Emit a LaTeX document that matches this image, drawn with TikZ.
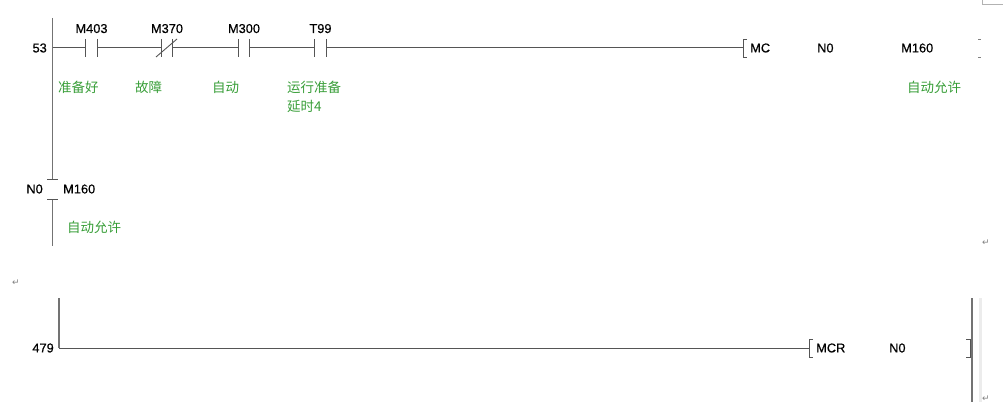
\documentclass[tikz,border=0pt]{standalone}
\usepackage{fontspec}
\setmainfont{Liberation Sans}
\newfontfamily\cjk{Noto Sans CJK SC}
\newfontfamily\symfont{DejaVu Sans}
\newfontfamily\addrfont[FakeBold=0.5]{Liberation Sans}
\usetikzlibrary{positioning}
\definecolor{cmtgreen}{RGB}{56,158,56}
\definecolor{wiregray}{RGB}{85,85,85}
\tikzset{
  wire/.style={draw=wiregray, line width=1pt},
  rail/.style={draw=gray!90!black, line width=1.5pt},
  contact/.style={inner sep=0, minimum width=11pt, minimum height=18pt},
  addr/.style={inner sep=0, font=\addrfont\fontsize{12.8}{14}\selectfont},
  cmt/.style={inner sep=0, text=cmtgreen, font=\cjk\fontsize{13.5}{16}\selectfont},
  pmark/.style={inner sep=0, text=gray, font=\symfont\fontsize{9}{10}\selectfont}
}

\begin{document}
\begin{tikzpicture}[x=1pt,y=-1pt]
  \useasboundingbox (0,0) rectangle (1003,414);
  % page corner
  \draw[gray!60, line width=0.8pt] (982,0) -- (982,4) -- (1003,4);

  % rung 53
  \coordinate (top1) at (52.5,18);
  \coordinate (n1) at (52.5,48);
  \coordinate (gapA) at (52.5,180);
  \coordinate (gapB) at (52.5,199);
  \coordinate (bot1) at (52.5,246);
  \draw[rail] (top1) -- (gapA);
  \draw[rail] (gapB) -- (bot1);
  \draw[wire] ([xshift=-5.5pt]gapA) -- ([xshift=5.5pt]gapA);
  \draw[wire] ([xshift=-5.5pt]gapB) -- ([xshift=5.5pt]gapB);
  \node[addr, anchor=east] (s53) at (47,48) {53};

  % contacts
  \node[contact] (k1) at (91.5,48) {};
  \node[contact] (k2) at (167,48) {};
  \node[contact] (k3) at (244,48) {};
  \node[contact] (k4) at (320.5,48) {};
  \coordinate (mcL) at (743,48);
  \draw[wire] (n1) -- (k1.west) (k1.east) -- (k2.west) (k2.east) -- (k3.west)
    (k3.east) -- (k4.west) (k4.east) -- (mcL);
  \foreach \k in {k1,k2,k3,k4}
    \draw[wire] (\k.north west) -- (\k.south west) (\k.north east) -- (\k.south east);
  \draw[wire, line width=0.9pt] ([shift={(-11pt,-9pt)}]k2.center) -- ([shift={(10pt,9pt)}]k2.center);
  \node[addr, above=5.5pt of k1] (a1) {M403};
  \node[addr, above=5.5pt of k2] (a2) {M370};
  \node[addr, above=5.5pt of k3] (a3) {M300};
  \node[addr, above=5.5pt of k4] (a4) {T99};

  % MC coil
  \draw[wire, line width=0.9pt] ([shift={(4pt,9pt)}]mcL) -- ([yshift=9pt]mcL) -- ([yshift=-9pt]mcL) -- ([shift={(4pt,-9pt)}]mcL);
  \node[addr, anchor=west] (mc) at (750,48) {MC};
  \node[addr, anchor=west] (mcn) at (817,48) {N0};
  \node[addr, anchor=west] (mcm) at (901,48) {M160};
  \draw[gray, line width=0.8pt] (978,39) -- (981,39) (978,57) -- (981,57);

  % comments
  \node[cmt, anchor=west] (c1) at (58,87) {准备好};
  \node[cmt, anchor=west] (c2) at (135,87) {故障};
  \node[cmt, anchor=west] (c3) at (212,87) {自动};
  \node[cmt, anchor=west] (c4) at (287,87) {运行准备};
  \node[cmt, anchor=west] (c5) at (287,106) {延时4};
  \node[cmt, anchor=west] (c6) at (907,87) {自动允许};

  % N0 break
  \node[addr, anchor=east] (nb) at (43,189) {N0};
  \node[addr, anchor=west] (nm) at (63,189) {M160};
  \node[cmt, anchor=west] (c7) at (67,227) {自动允许};

  % paragraph marks
  \node[pmark] (p1) at (986,243) {↵};
  \node[pmark] (p2) at (16,283) {↵};
  \node[pmark] (p3) at (986,399) {↵};

  % rung 479
  \coordinate (top2) at (59,298);
  \coordinate (n2) at (59,348);
  \coordinate (mcrL) at (809,348);
  \coordinate (endR) at (970,348);
  \coordinate (rtop) at (972,298);
  \coordinate (rbot) at (972,402);
  \draw[rail] (top2) -- (n2);
  \draw[wire] (n2) -- (mcrL);
  \node[addr, anchor=east] (s479) at (54,348) {479};
  \draw[wire, line width=0.9pt] ([shift={(4pt,9pt)}]mcrL) -- ([yshift=9pt]mcrL) -- ([yshift=-9pt]mcrL) -- ([shift={(4pt,-9pt)}]mcrL);
  \node[addr, anchor=west] (mcr) at (816,348) {MCR};
  \node[addr, anchor=west] (mcrn) at (889,348) {N0};
  \draw[wire, line width=0.9pt] ([shift={(-4pt,9pt)}]endR) -- ([yshift=9pt]endR) -- ([yshift=-9pt]endR) -- ([shift={(-4pt,-9pt)}]endR);
  \draw[wire] (endR) -- (rtop |- endR);
  \draw[rail] (rtop) -- (rbot);
  \draw[gray!15, line width=2.5pt] (980.5,298) -- (980.5,402);
\end{tikzpicture}
\end{document}
